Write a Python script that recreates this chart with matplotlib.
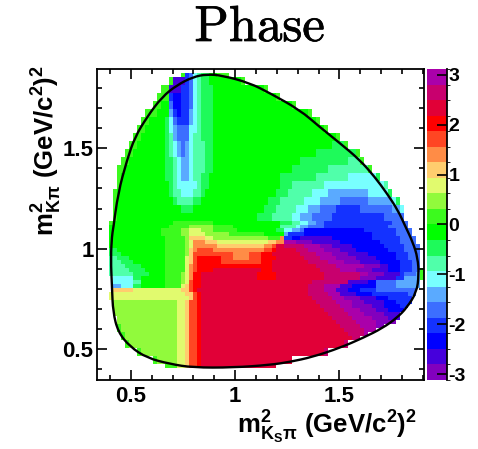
import numpy as np
import matplotlib
matplotlib.use('Agg')
import matplotlib.pyplot as plt
import matplotlib.patheffects as pe
from matplotlib.colors import ListedColormap, BoundaryNorm
from matplotlib.patches import PathPatch
from matplotlib.path import Path
from matplotlib.ticker import MultipleLocator

plt.rcParams['font.family'] = ['Liberation Sans', 'DejaVu Sans']
plt.rcParams['font.weight'] = 'bold'
plt.rcParams['mathtext.fontset'] = 'custom'
plt.rcParams['mathtext.rm'] = 'Liberation Sans:bold'
plt.rcParams['mathtext.it'] = 'Liberation Sans:bold'
plt.rcParams['mathtext.bf'] = 'Liberation Sans:bold'

x_range = (0.337, 1.906)
y_range = (0.346, 1.895)
phase_range = (-3.12, 3.12)
n_x = 82
n_y = 78

x_ticks = [0.5, 1, 1.5]
x_tick_labels = ['0.5', '1', '1.5']
y_ticks = [0.5, 1, 1.5]
y_tick_labels = ['0.5', '1', '1.5']
phase_ticks = [-3, -2, -1, 0, 1, 2, 3]

band_colors = ['#8200be', '#4600dc', '#0000ff', '#1432ff', '#3c6eff',
               '#5aaaff', '#78ffff', '#50ffaa', '#1efa5a', '#00ff00',
               '#3cfa1e', '#91fa3c', '#e1fa6e', '#ffcd6e', '#ff8c46',
               '#ff4623', '#ff0000', '#e10037', '#c8006e', '#aa00aa']

# Dalitz edge
edge_x = [.403, .409, .414, .438, .481, .519, .577, .649, .721, .797, .864,
          .941, 1.070, 1.166, 1.310, 1.406, 1.502, 1.598, 1.670, 1.727, 1.780,
          1.818, 1.852, 1.876, 1.881, 1.871, 1.823, 1.775, 1.708, 1.612, 1.502,
          1.372, 1.262, 1.166, .989, .797, .687, .577, .495, .438, .414, .409]
edge_y = [.954, 1.068, 1.093, 1.277, 1.442, 1.556, 1.656, 1.756, 1.815, 1.855, 1.869,
          1.862, 1.825, 1.775, 1.691, 1.606, 1.526, 1.442, 1.357, 1.277, 1.193,
          1.108, 1.033, .954, .869, .784, .705, .655, .605, .555, .506,
          .461, .436, .421, .408, .408, .426, .456, .512, .585, .685, .804]

# first histogram row (from the top) of each entry below, every entry runs to the next one
row_tops = ([1] + list(range(2, 38, 2)) + list(range(38, 68)) + [68, 70, 72, 74, 75])

# each row: (first bin, colour band), band -1 is empty
phase_rows = [
    [(21, 10), (22, 3), (23, 4), (24, 6), (25, 7), (26, 8), (28, 9), (30, 10), (33, -1)],
    [(18, 10), (19, 1), (22, 3), (23, 4), (24, 6), (25, 7), (26, 8), (28, 9), (36, 10), (37, -1)],
    [(16, 10), (18, 1), (21, 3), (23, 4), (24, 6), (25, 7), (26, 8), (29, 9), (42, 10), (43, -1)],
    [(15, 10), (18, 3), (19, 2), (21, 3), (23, 4), (24, 6), (25, 7), (26, 8), (29, 9), (45, 10), (46, -1)],
    [(14, 10), (16, 9), (18, 4), (19, 2), (21, 3), (23, 4), (24, 6), (25, 7), (26, 8), (29, 9), (49, 10), (50, -1)],
    [(12, 10), (15, 9), (18, 5), (19, 3), (20, 2), (21, 3), (23, 5), (24, 6), (25, 7), (26, 8), (29, 9), (53, 10), (54, -1)],
    [(11, 10), (13, 9), (17, 8), (18, 6), (19, 4), (20, 3), (23, 5), (24, 6), (25, 7), (26, 8), (29, 9), (55, 10), (56, -1)],
    [(10, 10), (12, 9), (17, 8), (18, 6), (19, 5), (20, 4), (23, 6), (25, 7), (26, 8), (29, 9), (57, 10), (58, -1)],
    [(9, 10), (11, 9), (17, 8), (18, 7), (19, 5), (20, 4), (23, 6), (24, 7), (26, 8), (29, 9), (60, 10), (61, -1)],
    [(8, 10), (10, 9), (17, 8), (18, 7), (19, 6), (20, 5), (21, 4), (22, 5), (23, 6), (24, 7), (27, 8), (29, 9), (59, 8), (62, 10), (63, -1)],
    [(7, 10), (9, 9), (17, 8), (18, 7), (19, 6), (20, 5), (21, 4), (22, 5), (23, 6), (24, 7), (27, 8), (29, 9), (55, 8), (65, 10), (66, -1)],
    [(6, 10), (8, 9), (17, 8), (19, 7), (20, 6), (21, 5), (23, 6), (24, 7), (27, 8), (29, 9), (51, 8), (63, 7), (66, 10), (67, -1)],
    [(5, 10), (7, 9), (17, 8), (19, 7), (20, 6), (21, 5), (23, 6), (24, 7), (27, 8), (29, 9), (49, 8), (58, 7), (68, 10), (69, -1)],
    [(5, 10), (6, 9), (17, 8), (19, 7), (20, 6), (21, 5), (23, 6), (24, 7), (26, 8), (28, 9), (46, 8), (55, 7), (63, 6), (70, 8), (71, -1)],
    [(5, 10), (6, 9), (18, 8), (19, 7), (20, 6), (25, 7), (26, 8), (28, 9), (46, 8), (49, 7), (57, 6), (72, 7), (73, -1)],
    [(4, 10), (5, 9), (18, 8), (19, 7), (21, 6), (24, 7), (26, 8), (27, 9), (45, 8), (48, 7), (54, 6), (58, 5), (68, 6), (73, 8), (74, -1)],
    [(4, 10), (5, 9), (19, 8), (20, 7), (24, 8), (26, 9), (43, 8), (46, 7), (52, 6), (56, 5), (61, 4), (68, 5), (74, 6), (75, 8), (76, -1)],
    [(4, 10), (5, 9), (21, 8), (24, 9), (42, 8), (45, 7), (50, 6), (53, 5), (56, 4), (60, 3), (66, 4), (74, 5), (76, 6), (77, -1)],
    [(4, 10), (5, 9), (40, 8), (44, 7), (49, 6), (51, 5), (54, 4), (59, 3), (72, 4), (77, -1)],
    # from here one entry per histogram row
    [(3, 10), (4, 9), (19, 10), (29, 9), (46, 8), (49, 7), (51, 6), (53, 5), (55, 4), (57, 3), (74, 4), (78, -1)],
    [(3, 9), (18, 10), (23, 11), (29, 10), (34, 9), (46, 7), (50, 6), (51, 5), (53, 4), (57, 3), (73, 4), (78, -1)],
    [(3, 9), (16, 10), (21, 11), (23, 12), (26, 11), (29, 10), (35, 9), (45, 8), (47, 6), (49, 5), (51, 4), (52, 2), (67, 3), (75, 4), (79, -1)],
    [(3, 9), (16, 10), (21, 11), (23, 12), (27, 11), (33, 10), (42, 9), (47, 5), (48, 3), (52, 2), (69, 3), (75, 4), (79, -1)],
    [(3, 9), (17, 10), (22, 11), (23, 13), (27, 12), (29, 11), (43, 10), (46, 14), (47, 3), (49, 2), (51, 1), (59, 2), (69, 3), (76, 4), (80, -1)],
    [(3, 9), (17, 10), (22, 11), (23, 12), (24, 14), (27, 13), (30, 12), (43, 13), (45, 14), (47, 19), (50, 0), (54, 1), (61, 2), (71, 3), (76, 4), (80, -1)],
    [(3, 9), (17, 10), (22, 11), (23, 12), (24, 14), (30, 13), (42, 14), (44, 15), (45, 17), (47, 18), (52, 19), (56, 0), (59, 1), (64, 2), (72, 3), (77, 4), (81, -1)],
    [(3, 8), (5, 9), (17, 10), (22, 11), (23, 13), (24, 14), (25, 15), (29, 14), (42, 15), (44, 16), (45, 17), (50, 18), (53, 19), (57, 0), (61, 1), (65, 2), (73, 3), (77, 4), (81, -1)],
    [(3, 8), (6, 9), (17, 10), (22, 11), (23, 13), (24, 15), (34, 14), (38, 15), (41, 16), (44, 17), (51, 18), (55, 19), (59, 0), (63, 1), (68, 2), (75, 3), (78, 4), (81, -1)],
    [(3, 7), (5, 8), (8, 9), (17, 10), (22, 12), (23, 13), (24, 15), (25, 16), (31, 15), (34, 14), (38, 15), (41, 16), (45, 17), (52, 18), (56, 19), (60, 0), (65, 1), (70, 2), (75, 3), (78, 4), (81, -1)],
    [(3, 7), (6, 8), (9, 9), (17, 10), (22, 12), (23, 13), (24, 15), (25, 16), (31, 15), (41, 16), (44, 17), (53, 18), (58, 19), (62, 0), (66, 1), (71, 2), (76, 3), (79, 4), (81, -1)],
    [(3, 7), (7, 8), (11, 9), (17, 10), (22, 12), (23, 14), (24, 15), (25, 16), (44, 17), (55, 18), (60, 19), (67, 0), (71, 1), (73, 2), (76, 3), (79, 4), (81, -1)],
    [(3, 7), (8, 8), (12, 9), (17, 10), (22, 12), (23, 14), (24, 15), (25, 16), (29, 17), (41, 16), (44, 17), (56, 18), (61, 19), (65, 0), (69, 1), (73, 2), (76, 3), (79, 4), (81, 10), (82, -1)],
    [(3, 7), (9, 8), (13, 9), (17, 10), (21, 11), (22, 12), (23, 14), (24, 16), (26, 17), (40, 16), (45, 17), (57, 18), (66, 19), (68, 0), (72, 1), (76, 3), (77, 4), (80, 5), (81, 10), (82, -1)],
    [(4, 6), (9, 8), (11, 9), (17, 10), (21, 11), (22, 12), (23, 14), (24, 16), (26, 17), (40, 16), (45, 17), (57, 18), (66, 0), (70, 1), (75, 3), (77, 5), (81, 10), (82, -1)],
    [(4, 6), (9, 7), (11, 9), (17, 10), (21, 11), (22, 12), (23, 15), (24, 16), (26, 17), (54, 18), (63, 1), (68, 2), (70, 4), (75, 5), (81, -1)],
    [(4, 5), (6, 6), (9, 8), (11, 9), (17, 10), (21, 12), (22, 13), (23, 15), (24, 16), (26, 17), (53, 18), (57, 19), (61, 1), (64, 2), (70, 4), (75, 5), (81, -1)],
    [(4, 13), (9, 12), (21, 13), (23, 15), (24, 16), (25, 17), (53, 18), (57, 19), (60, 1), (63, 2), (66, 3), (70, 4), (80, -1)],
    [(3, 12), (22, 13), (24, 15), (25, 16), (26, 17), (53, 18), (58, 19), (61, 1), (65, 2), (69, 3), (78, 4), (80, -1)],
    [(3, 12), (23, 13), (24, 15), (25, 16), (26, 17), (54, 18), (59, 19), (62, 0), (66, 1), (70, 2), (73, 3), (79, -1)],
    [(4, 11), (20, 12), (22, 13), (23, 15), (25, 16), (26, 17), (55, 18), (60, 19), (64, 0), (67, 1), (72, 2), (75, 3), (79, -1)],
    [(4, 11), (20, 12), (22, 13), (23, 15), (25, 16), (26, 17), (56, 18), (61, 19), (64, 0), (69, 1), (72, 2), (76, 3), (78, -1)],
    [(4, 11), (20, 12), (22, 13), (23, 15), (25, 16), (26, 17), (57, 18), (62, 19), (66, 0), (70, 1), (73, 2), (77, -1)],
    [(4, 11), (20, 12), (22, 13), (23, 15), (25, 16), (26, 17), (58, 18), (63, 19), (67, 0), (72, 1), (76, -1)],
    [(5, 11), (20, 12), (22, 13), (23, 15), (25, 16), (26, 17), (59, 18), (64, 19), (69, 0), (73, 1), (76, -1)],
    [(5, 11), (20, 12), (22, 13), (23, 15), (25, 16), (26, 17), (60, 18), (65, 19), (70, 0), (75, -1)],
    [(5, 10), (6, 11), (20, 12), (22, 13), (23, 15), (25, 16), (26, 17), (61, 18), (66, 19), (70, 0), (72, -1)],
    [(5, 10), (6, 11), (20, 12), (22, 13), (23, 15), (25, 16), (26, 17), (62, 18), (67, 19), (70, -1)],
    [(6, 10), (7, 11), (20, 12), (22, 13), (23, 15), (25, 16), (26, 17), (63, 18), (67, 19), (68, -1)],
    [(6, 10), (7, 11), (20, 12), (22, 13), (23, 15), (25, 16), (26, 17), (64, 18), (66, -1)],
    [(7, 10), (8, 11), (20, 12), (22, 13), (23, 15), (25, 16), (26, 17), (62, 18), (63, -1)],
    [(10, 10), (11, 11), (20, 12), (22, 13), (23, 15), (25, 16), (26, 17), (57, 18), (58, -1)],
    [(14, 10), (15, 11), (20, 12), (22, 13), (23, 15), (25, 16), (26, 17), (49, -1)],
    [(17, 10), (20, 12), (22, 13), (23, 15), (25, 16), (26, 17), (45, -1)],
    [(0, -1)],
]

band_edges = np.linspace(phase_range[0], phase_range[1], len(band_colors) + 1)
band_mid = 0.5 * (band_edges[:-1] + band_edges[1:])

# fill the histogram from the rows
phase = np.full((n_y, n_x), np.nan)
for i, runs in enumerate(phase_rows):
    top = row_tops[i]
    bottom = row_tops[i + 1] if i + 1 < len(row_tops) else n_y
    for j, (start, band) in enumerate(runs):
        stop = runs[j + 1][0] if j + 1 < len(runs) else n_x
        if band >= 0:
            phase[n_y - bottom:n_y - top, start:stop] = band_mid[band]

x_bins = np.linspace(x_range[0], x_range[1], n_x + 1)
y_bins = np.linspace(y_range[0], y_range[1], n_y + 1)

W, H = 478, 449
fig = plt.figure(figsize=(W / 100, H / 100), dpi=100)
ax = fig.add_axes([97 / W, 1 - 380 / H, 327 / W, 311 / H])
cax = fig.add_axes([427 / W, 1 - 380 / H, 19.5 / W, 311 / H])

cmap = ListedColormap(band_colors)
norm = BoundaryNorm(band_edges, cmap.N)
mesh = ax.pcolormesh(x_bins, y_bins, np.ma.masked_invalid(phase), cmap=cmap, norm=norm)

# read edge points as quadratic control points so the outline stays round
pts = np.column_stack([edge_x, edge_y])
mids = 0.5 * (pts + np.roll(pts, -1, axis=0))
verts = [mids[-1]]
codes = [Path.MOVETO]
for p, m in zip(pts, mids):
    verts += [p, m]
    codes += [Path.CURVE3, Path.CURVE3]
ax.add_patch(PathPatch(Path(verts, codes), fill=False, edgecolor='black', lw=1.7))

ax.set_xlim(x_range)
ax.set_ylim(y_range)
ax.set_xticks(x_ticks)
ax.set_xticklabels(x_tick_labels)
ax.set_yticks(y_ticks)
ax.set_yticklabels(y_tick_labels)
ax.xaxis.set_minor_locator(MultipleLocator(0.1))
ax.yaxis.set_minor_locator(MultipleLocator(0.1))
ax.tick_params(which='major', direction='in', length=7, width=1.2, top=True, right=True, labelsize=16)
ax.tick_params(axis='x', which='major', pad=4)
ax.tick_params(axis='y', which='major', pad=2.5)
ax.tick_params(which='minor', direction='in', length=3.5, width=1.2, top=True, right=True)
for s in ax.spines.values():
    s.set_linewidth(1.3)

cb = fig.colorbar(mesh, cax=cax, ticks=phase_ticks, spacing='proportional', drawedges=False)
cb.outline.set_visible(False)
cax.set_yticklabels([str(t) for t in phase_ticks])
cax.tick_params(direction='in', length=7, width=1.2, labelsize=14, pad=1.5)
cax.axvline(cax.get_xlim()[1], color='black', lw=1.3, clip_on=False)

fig.text(259.5 / W, 1 - 41 / H, 'Phase', fontname='cmr10', fontweight='normal', fontsize=36.5,
         ha='center', va='baseline', path_effects=[pe.withStroke(linewidth=0.5, foreground='black')])
fig.text(417 / W, 1 - 434 / H, r'$\mathregular{m^{2}_{K_{S}\pi}\ (GeV/c^{2})^{2}}$', fontsize=18.5, ha='right', va='baseline')
fig.text(55 / W, 1 - 236 / H, r'$\mathregular{m^{2}_{K\pi}\ (GeV/c^{2})^{2}}$', fontsize=18.5, rotation=90,
         rotation_mode='anchor', ha='left', va='baseline')

fig.savefig('out.png', dpi=100)
